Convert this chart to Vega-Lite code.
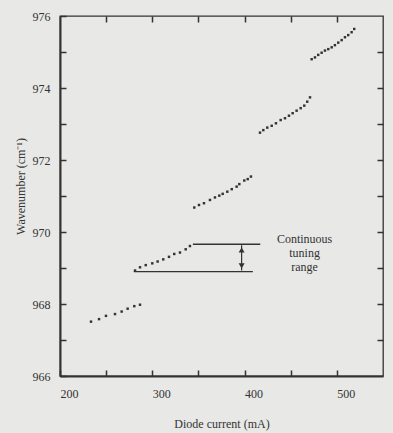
{
  "$schema": "https://vega.github.io/schema/vega-lite/v6.json",
  "width": 323,
  "height": 360,
  "autosize": {"type": "none"},
  "padding": {"left": 60, "top": 16, "right": 10, "bottom": 57},
  "background": "#e8e8e6",
  "config": {
    "view": {"stroke": "#333333", "strokeWidth": 1.3},
    "font": "Liberation Serif",
    "axis": {"labelFont": "Liberation Serif", "titleFont": "Liberation Serif", "labelColor": "#333333", "titleColor": "#333333", "tickColor": "#333333", "domainColor": "#333333", "grid": false, "titleFontWeight": "normal", "labelFontSize": 12, "titleFontSize": 12, "labelFlush": false}
  },
  "datasets": {
    "dots": [
      {"current": 233.6, "wavenumber": 967.51}, {"current": 242.3, "wavenumber": 967.58}, {"current": 249.8, "wavenumber": 967.67}, {"current": 259.6, "wavenumber": 967.72}, {"current": 266.8, "wavenumber": 967.79}, {"current": 273.3, "wavenumber": 967.87}, {"current": 280.5, "wavenumber": 967.94}, {"current": 286.7, "wavenumber": 967.98},
      {"current": 281.3, "wavenumber": 968.93}, {"current": 286.7, "wavenumber": 969.02}, {"current": 292.9, "wavenumber": 969.08}, {"current": 300.0, "wavenumber": 969.13}, {"current": 305.8, "wavenumber": 969.18}, {"current": 311.9, "wavenumber": 969.24}, {"current": 318.1, "wavenumber": 969.31}, {"current": 323.8, "wavenumber": 969.39}, {"current": 330.0, "wavenumber": 969.43}, {"current": 336.2, "wavenumber": 969.52}, {"current": 340.8, "wavenumber": 969.61},
      {"current": 345.5, "wavenumber": 970.68}, {"current": 350.6, "wavenumber": 970.75}, {"current": 356.0, "wavenumber": 970.80}, {"current": 362.5, "wavenumber": 970.89}, {"current": 367.9, "wavenumber": 970.96}, {"current": 372.6, "wavenumber": 971.01}, {"current": 376.3, "wavenumber": 971.06}, {"current": 381.3, "wavenumber": 971.12}, {"current": 386.1, "wavenumber": 971.19}, {"current": 391.4, "wavenumber": 971.26}, {"current": 394.3, "wavenumber": 971.33}, {"current": 399.7, "wavenumber": 971.43}, {"current": 403.4, "wavenumber": 971.47}, {"current": 406.9, "wavenumber": 971.54},
      {"current": 416.7, "wavenumber": 972.76}, {"current": 420.3, "wavenumber": 972.83}, {"current": 424.6, "wavenumber": 972.90}, {"current": 429.4, "wavenumber": 972.95}, {"current": 434.0, "wavenumber": 973.02}, {"current": 439.1, "wavenumber": 973.11}, {"current": 443.8, "wavenumber": 973.16}, {"current": 448.1, "wavenumber": 973.23}, {"current": 452.1, "wavenumber": 973.30}, {"current": 456.4, "wavenumber": 973.37}, {"current": 460.8, "wavenumber": 973.44}, {"current": 464.7, "wavenumber": 973.51}, {"current": 467.9, "wavenumber": 973.62}, {"current": 470.9, "wavenumber": 973.74},
      {"current": 472.7, "wavenumber": 974.80}, {"current": 476.3, "wavenumber": 974.85}, {"current": 479.8, "wavenumber": 974.92}, {"current": 483.5, "wavenumber": 974.98}, {"current": 487.1, "wavenumber": 975.04}, {"current": 490.7, "wavenumber": 975.08}, {"current": 494.4, "wavenumber": 975.13}, {"current": 497.9, "wavenumber": 975.19}, {"current": 501.5, "wavenumber": 975.26}, {"current": 505.2, "wavenumber": 975.33}, {"current": 508.8, "wavenumber": 975.41}, {"current": 512.3, "wavenumber": 975.47}, {"current": 516.0, "wavenumber": 975.55}, {"current": 518.8, "wavenumber": 975.64}
    ],
    "lines": [
      {"x1": 280, "x2": 409, "y": 968.9},
      {"x1": 344, "x2": 417, "y": 969.66}
    ],
    "arrow": [{"x": 396.8, "y1": 968.93, "y2": 969.63}],
    "heads": [
      {"x": 396.8, "y": 969.5, "dir": "triangle-up"},
      {"x": 396.8, "y": 969.06, "dir": "triangle-down"}
    ],
    "labels": [
      {"x": 465, "y": 969.81, "text": "Continuous"},
      {"x": 465, "y": 969.42, "text": "tuning"},
      {"x": 465, "y": 969.03, "text": "range"}
    ]
  },
  "resolve": {"axis": {"x": "independent", "y": "independent"}},
  "layer": [
    {
      "data": {"name": "dots"},
      "mark": {"type": "point", "shape": "square", "filled": true, "size": 6, "color": "#333333", "opacity": 1},
      "encoding": {
        "x": {"field": "current", "type": "quantitative", "scale": {"domain": [200, 550], "nice": false},
          "axis": {"orient": "bottom", "title": "Diode current (mA)", "values": [200, 250, 300, 350, 400, 450, 500], "labelExpr": "datum.value % 100 == 0 ? datum.label : ''", "tickSize": -6, "labelPadding": 18, "labelOffset": 9, "domainWidth": 2, "tickWidth": 1.5, "titleBaseline": "middle", "titleY": 47}},
        "y": {"field": "wavenumber", "type": "quantitative", "scale": {"domain": [966, 976], "nice": false, "zero": false},
          "axis": {"orient": "left", "title": "Wavenumber (cm⁻¹)", "values": [966, 967, 968, 969, 970, 971, 972, 973, 974, 975, 976], "labelExpr": "datum.value % 2 == 0 ? datum.label : ''", "tickSize": -6, "labelPadding": 16, "domainWidth": 2, "tickWidth": 1.5, "titleX": -40, "titleY": 170, "titleBaseline": "middle"}}
      }
    },
    {
      "data": {"name": "lines"},
      "mark": {"type": "rule", "color": "#333333", "strokeWidth": 1.3},
      "encoding": {
        "x": {"field": "x1", "type": "quantitative", "axis": {"orient": "top", "labels": false, "title": null, "domain": false, "values": [250, 300, 350, 400, 450, 500], "tickSize": -6, "tickWidth": 1.5}},
        "x2": {"field": "x2"},
        "y": {"field": "y", "type": "quantitative", "axis": {"orient": "right", "labels": false, "title": null, "domain": false, "values": [967, 968, 969, 970, 971, 972, 973, 974, 975], "tickSize": -6, "tickWidth": 1.5}}
      }
    },
    {
      "data": {"name": "arrow"},
      "mark": {"type": "rule", "color": "#333333", "strokeWidth": 1.2},
      "encoding": {
        "x": {"field": "x", "type": "quantitative", "axis": null},
        "y": {"field": "y1", "type": "quantitative", "axis": null},
        "y2": {"field": "y2"}
      }
    },
    {
      "data": {"name": "heads"},
      "mark": {"type": "point", "filled": true, "size": 36, "color": "#333333", "opacity": 1},
      "encoding": {
        "x": {"field": "x", "type": "quantitative", "axis": null},
        "y": {"field": "y", "type": "quantitative", "axis": null},
        "shape": {"field": "dir", "type": "nominal", "scale": null, "legend": null}
      }
    },
    {
      "data": {"name": "labels"},
      "mark": {"type": "text", "font": "Liberation Serif", "fontSize": 12, "color": "#333333", "align": "center", "baseline": "middle"},
      "encoding": {
        "x": {"field": "x", "type": "quantitative", "axis": null},
        "y": {"field": "y", "type": "quantitative", "axis": null},
        "text": {"field": "text", "type": "nominal"}
      }
    }
  ]
}
